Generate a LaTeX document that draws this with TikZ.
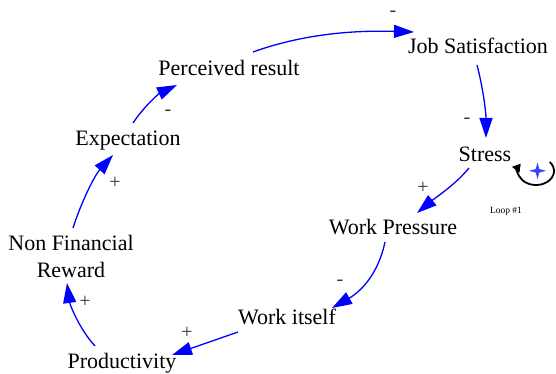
\documentclass[tikz,border=0pt]{standalone}
\usepackage{fontspec}
\setmainfont{Liberation Serif}
\usetikzlibrary{arrows.meta}
\tikzset{
  var/.style={inner sep=0pt, anchor=base, font=\fontsize{22}{26.7}\selectfont, text=black},
  pol/.style={inner sep=0pt, font=\fontsize{20}{24}\selectfont, text=black!80},
  link/.style={draw=blue, line width=1.3pt, -{Triangle[length=20pt,width=13pt]}},
}
\begin{document}
\begin{tikzpicture}[x=1pt,y=-1pt]
\useasboundingbox (0,0) rectangle (556,374);
% variables
\node[var] (js) at (478,54) {Job Satisfaction};
\node[var] (pr) at (229,76) {Perceived result};
\node[var] (ex) at (128,146) {Expectation};
\node[var, align=center] (nfr) at (71,277) {Non Financial\\Reward};
\node[var] (pd) at (122,368) {Productivity};
\node[var] (wi) at (287,324) {Work itself};
\node[var] (wp) at (393,234) {Work Pressure};
\node[var] (st) at (485,161) {Stress};
% connector end points
\coordinate (a1) at (253,52);  \coordinate (b1) at (414,32);
\coordinate (a2) at (477,65);  \coordinate (b2) at (486,138);
\coordinate (a3) at (469,168); \coordinate (b3) at (417,213);
\coordinate (a4) at (385,242); \coordinate (b4) at (332,308);
\coordinate (a5) at (238,332); \coordinate (b5) at (172,355);
\coordinate (a6) at (95,346);  \coordinate (b6) at (67,283);
\coordinate (a7) at (73,228);  \coordinate (b7) at (113,155);
\coordinate (a8) at (133,123); \coordinate (b8) at (177,85);
% connectors
\draw[link] (a1) .. controls (300,35) and (350,30) .. (b1);
\draw[link] (a2) .. controls (483,88) and (486,112) .. (b2);
\draw[link] (a3) .. controls (455,185) and (435,198) .. (b3);
\draw[link] (a4) .. controls (378,275) and (360,292) .. (b4);
\draw[link] (a5) -- (b5);
\draw[link] (a6) .. controls (80,330) and (70,305) .. (b6);
\draw[link] (a7) .. controls (82,200) and (95,175) .. (b7);
\draw[link] (a8) .. controls (145,105) and (160,93) .. (b8);
% polarities
\node[pol] (p1) at (393,14) {-};
\node[pol] (p2) at (467,121) {-};
\node[pol] (p3) at (423,188) {+};
\node[pol] (p4) at (340,283) {-};
\node[pol] (p5) at (187,333) {+};
\node[pol] (p6) at (85,302) {+};
\node[pol] (p7) at (115,183) {+};
\node[pol] (p8) at (168,113) {-};
% loop symbol
\coordinate (lc) at (536,171);
\draw[line width=1.8pt, -{Triangle[length=8pt,width=9pt]}] (lc) ++(-40:18 and 14) arc[start angle=-40, end angle=212, x radius=18, y radius=14];
\fill[blue!75] (537.5,162.5) -- (539.3,169) -- (546,170.8) -- (539.3,172.6) -- (537.5,179) -- (535.7,172.6) -- (529,170.8) -- (535.7,169) -- cycle;
\node[inner sep=0pt, font=\fontsize{9.5}{11}\selectfont] (loop) at (506,211) {Loop \#1};
\end{tikzpicture}
\end{document}
